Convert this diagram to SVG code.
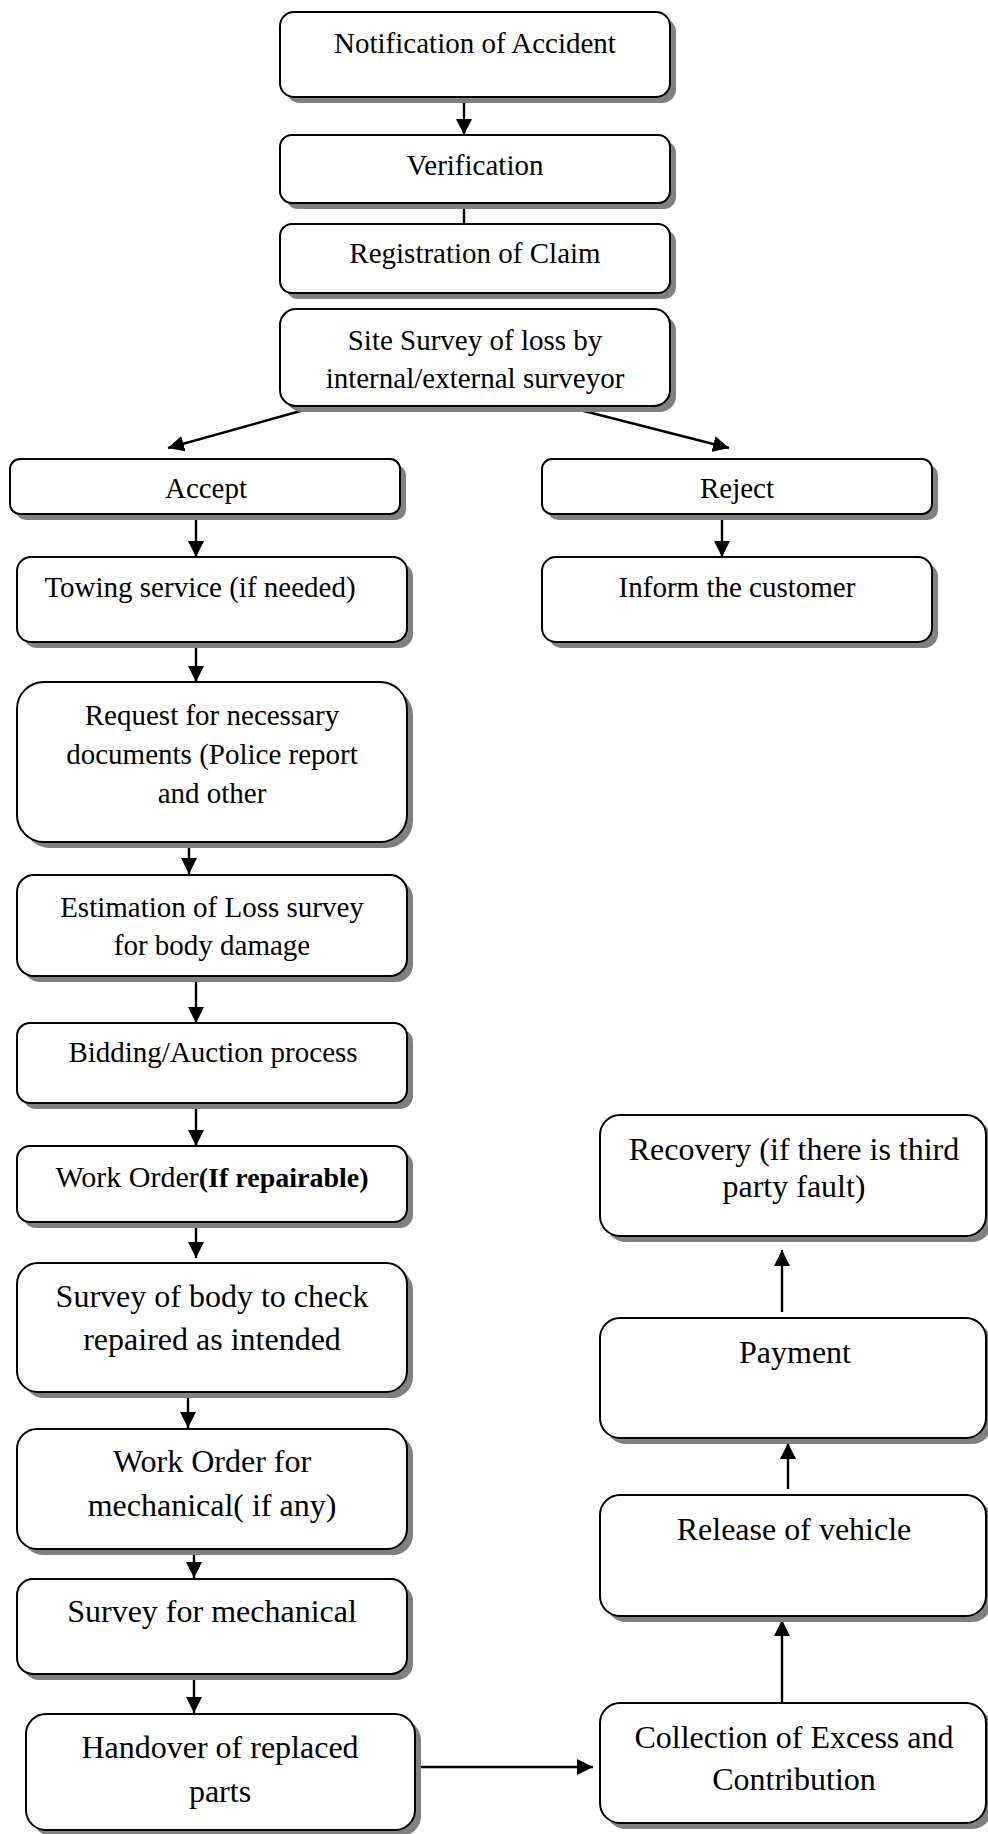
<svg xmlns="http://www.w3.org/2000/svg" width="988" height="1834" viewBox="0 0 988 1834">
<style>
.sh{fill:#808080;stroke:none}
.bx{fill:#fff;stroke:#000;stroke-width:2}
.t{font-family:"Liberation Serif","Times New Roman",serif;font-size:29px;fill:#000;text-anchor:middle}
.t2{font-size:32px}
.c{stroke:#000;stroke-width:2.4;fill:none}
.a{marker-end:url(#ah)}
</style>
<defs>
<marker id="ah" markerUnits="userSpaceOnUse" markerWidth="17" markerHeight="16" refX="16" refY="8" orient="auto">
<path d="M0,0 L16,8 L0,16 z" fill="#000"/>
</marker>
</defs>
<rect width="988" height="1834" fill="#fff"/>

<g id="connectors">
<line class="c a" x1="464" y1="101" x2="464" y2="135"/>
<line class="c" x1="464" y1="203" x2="464" y2="224"/>
<line class="c a" x1="304" y1="410" x2="168" y2="448"/>
<line class="c a" x1="580" y1="410" x2="729" y2="448"/>
<line class="c a" x1="196" y1="519" x2="196" y2="557"/>
<line class="c a" x1="722" y1="519" x2="722" y2="557"/>
<line class="c a" x1="196" y1="647" x2="196" y2="682"/>
<line class="c a" x1="189" y1="847" x2="189" y2="874"/>
<line class="c a" x1="196" y1="981" x2="196" y2="1023"/>
<line class="c a" x1="196" y1="1108" x2="196" y2="1146"/>
<line class="c a" x1="196" y1="1227" x2="196" y2="1258"/>
<line class="c a" x1="188" y1="1397" x2="188" y2="1428"/>
<line class="c a" x1="194" y1="1554" x2="194" y2="1578"/>
<line class="c a" x1="194" y1="1679" x2="194" y2="1713"/>
<line class="c a" x1="407" y1="1767" x2="593" y2="1767"/>
<line class="c a" x1="782" y1="1703" x2="782" y2="1620"/>
<line class="c a" x1="788" y1="1489" x2="788" y2="1443"/>
<line class="c a" x1="782" y1="1312" x2="782" y2="1250"/>
</g>

<g id="n-notification">
<rect class="sh" x="286" y="18" width="390" height="85" rx="14"/>
<rect class="bx" x="280" y="12" width="390" height="85" rx="14"/>
<text class="t" x="475" y="53">Notification of Accident</text>
</g>
<g id="n-verification">
<rect class="sh" x="286" y="141" width="390" height="68" rx="12"/>
<rect class="bx" x="280" y="135" width="390" height="68" rx="12"/>
<text class="t" x="475" y="175">Verification</text>
</g>
<g id="n-registration">
<rect class="sh" x="286" y="230" width="390" height="69" rx="12"/>
<rect class="bx" x="280" y="224" width="390" height="69" rx="12"/>
<text class="t" x="475" y="263">Registration of Claim</text>
</g>
<g id="n-site-survey">
<rect class="sh" x="286" y="315" width="390" height="97" rx="16"/>
<rect class="bx" x="280" y="309" width="390" height="97" rx="16"/>
<text class="t" x="475" y="350">Site Survey of loss by</text>
<text class="t" x="475" y="388">internal/external surveyor</text>
</g>
<g id="n-accept">
<rect class="sh" x="16" y="465" width="390" height="55" rx="10"/>
<rect class="bx" x="10" y="459" width="390" height="55" rx="10"/>
<text class="t" x="206" y="498">Accept</text>
</g>
<g id="n-reject">
<rect class="sh" x="548" y="465" width="390" height="55" rx="10"/>
<rect class="bx" x="542" y="459" width="390" height="55" rx="10"/>
<text class="t" x="737" y="498">Reject</text>
</g>
<g id="n-towing">
<rect class="sh" x="23" y="563" width="390" height="85" rx="14"/>
<rect class="bx" x="17" y="557" width="390" height="85" rx="14"/>
<text class="t" x="200" y="597">Towing service (if needed)</text>
</g>
<g id="n-inform">
<rect class="sh" x="548" y="563" width="390" height="85" rx="14"/>
<rect class="bx" x="542" y="557" width="390" height="85" rx="14"/>
<text class="t" x="737" y="597">Inform the customer</text>
</g>
<g id="n-request">
<rect class="sh" x="23" y="688" width="390" height="160" rx="27"/>
<rect class="bx" x="17" y="682" width="390" height="160" rx="27"/>
<text class="t" x="212" y="725">Request for necessary</text>
<text class="t" x="212" y="764">documents (Police report</text>
<text class="t" x="212" y="803">and other</text>
</g>
<g id="n-estimation">
<rect class="sh" x="23" y="881" width="390" height="101" rx="17"/>
<rect class="bx" x="17" y="875" width="390" height="101" rx="17"/>
<text class="t" x="212" y="917">Estimation of Loss survey</text>
<text class="t" x="212" y="955">for body damage</text>
</g>
<g id="n-bidding">
<rect class="sh" x="23" y="1029" width="390" height="80" rx="13"/>
<rect class="bx" x="17" y="1023" width="390" height="80" rx="13"/>
<text class="t" x="213" y="1062">Bidding/Auction process</text>
</g>
<g id="n-workorder">
<rect class="sh" x="23" y="1152" width="390" height="76" rx="13"/>
<rect class="bx" x="17" y="1146" width="390" height="76" rx="13"/>
<text class="t" x="212" y="1187" style="font-size:30px">Work Order<tspan font-weight="bold" style="font-size:28px">(If repairable)</tspan></text>
</g>
<g id="n-survey-body">
<rect class="sh" x="23" y="1269" width="390" height="129" rx="21"/>
<rect class="bx" x="17" y="1263" width="390" height="129" rx="21"/>
<text class="t t2" x="212" y="1307">Survey of body to check</text>
<text class="t t2" x="212" y="1350">repaired as intended</text>
</g>
<g id="n-workorder-mech">
<rect class="sh" x="23" y="1435" width="390" height="120" rx="20"/>
<rect class="bx" x="17" y="1429" width="390" height="120" rx="20"/>
<text class="t t2" x="212" y="1472">Work Order for</text>
<text class="t t2" x="212" y="1516">mechanical( if any)</text>
</g>
<g id="n-survey-mech">
<rect class="sh" x="23" y="1585" width="390" height="95" rx="16"/>
<rect class="bx" x="17" y="1579" width="390" height="95" rx="16"/>
<text class="t t2" x="212" y="1622">Survey for mechanical</text>
</g>
<g id="n-handover">
<rect class="sh" x="32" y="1720" width="389" height="116" rx="20"/>
<rect class="bx" x="26" y="1714" width="389" height="116" rx="20"/>
<text class="t t2" x="220" y="1758">Handover of replaced</text>
<text class="t t2" x="220" y="1802">parts</text>
</g>
<g id="n-recovery">
<rect class="sh" x="606" y="1121" width="386" height="121" rx="20"/>
<rect class="bx" x="600" y="1115" width="386" height="121" rx="20"/>
<text class="t t2" x="794" y="1160">Recovery (if there is third</text>
<text class="t t2" x="794" y="1197">party fault)</text>
</g>
<g id="n-payment">
<rect class="sh" x="606" y="1324" width="386" height="120" rx="20"/>
<rect class="bx" x="600" y="1318" width="386" height="120" rx="20"/>
<text class="t t2" x="795" y="1363">Payment</text>
</g>
<g id="n-release">
<rect class="sh" x="606" y="1501" width="386" height="121" rx="20"/>
<rect class="bx" x="600" y="1495" width="386" height="121" rx="20"/>
<text class="t t2" x="794" y="1540">Release of vehicle</text>
</g>
<g id="n-collection">
<rect class="sh" x="606" y="1709" width="386" height="120" rx="20"/>
<rect class="bx" x="600" y="1703" width="386" height="120" rx="20"/>
<text class="t t2" x="794" y="1748">Collection of Excess and</text>
<text class="t t2" x="794" y="1790">Contribution</text>
</g>
</svg>
